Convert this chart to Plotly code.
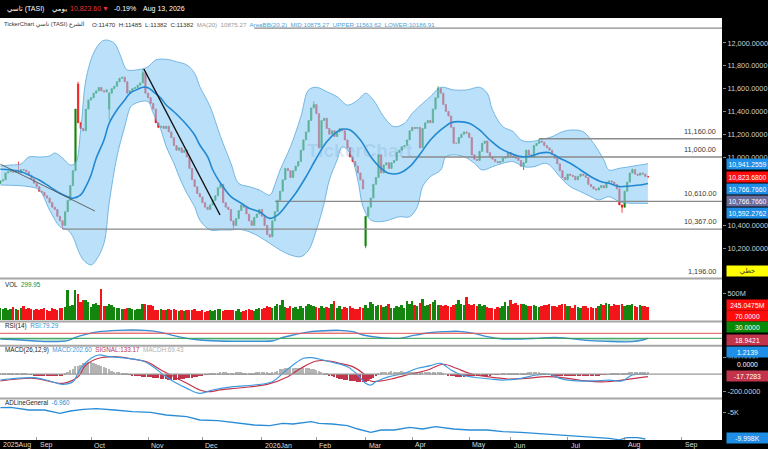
import pandas as pd
import plotly.graph_objects as go
from plotly.subplots import make_subplots

FONT = "Liberation Sans, Arial, DejaVu Sans, sans-serif"
W, H, PW = 768, 449, 722          # page size and width of the plotting area
GREEN, RED, BLUE = "#14860f", "#f2161a", "#2b8cd8"
CRIMSON = "#c2344c"

# ---- trading calendar (Sun-Thu market) ----
holidays = ["2025-09-23", "2026-02-22", "2026-03-19", "2026-03-22", "2026-03-23",
            "2026-03-24", "2026-03-25", "2026-05-25", "2026-05-26", "2026-05-27",
            "2026-05-28", "2026-05-31"]
days = pd.bdate_range("2025-08-12", "2026-09-30", freq="C",
                      weekmask="Sun Mon Tue Wed Thu", holidays=holidays)

# ---- daily closes (one row per month) ----
close = [
    10790, 10800, 10860, 10870, 10880, 10865, 10875, 10860, 10890, 10885, 10870, 10840, 10810, 10770,
    10740, 10700, 10690, 10660, 10640, 10600, 10560, 10540, 10480, 10440, 10400, 10520, 10620, 10750,
    10880, 11420, 11300, 11250, 11230, 11420, 11500,
    11520, 11560, 11580, 11610, 11580, 11570, 11590, 11560, 11600, 11620, 11660, 11690, 11700, 11660,
    11560, 11580, 11600, 11610, 11630, 11650, 11740, 11560,
    11520, 11470, 11420, 11300, 11260, 11270, 11250, 11270, 11220, 11170, 11100, 11060, 11080, 11040,
    11060, 11000, 10900, 10800, 10740, 10680, 10650,
    10600, 10560, 10540, 10580, 10620, 10660, 10730, 10760, 10600, 10560, 10540, 10440, 10400, 10460,
    10530, 10580, 10560, 10500, 10440, 10400, 10470, 10500, 10540,
    10480, 10400, 10320, 10300, 10440, 10520, 10620, 10700, 10800, 10900, 10880, 10820, 10880, 10920,
    10960, 11060, 11150, 11220, 11320, 11430, 11460,
    11380, 11080, 11320, 11340, 11250, 11200, 11230, 11180, 11220, 11250, 11230, 11150, 11080, 11000,
    10960, 10920, 10860, 10800, 10720,
    10480, 10560, 10640, 10760, 10820, 11020, 10860, 10930, 10950, 10900, 10950, 10970, 11040, 11060,
    11090, 11100, 11150, 11230,
    11260, 11250, 11260, 11080, 11250, 11300, 11320, 11300, 11420, 11520, 11600, 11560, 11460, 11400,
    11360, 11260, 11120, 11120, 11170, 11200, 11220, 11210,
    11170, 11020, 10980, 10970, 11050, 11120, 11140, 11040, 11000, 10980, 10960, 10950, 10960, 10990,
    11000, 11040,
    11010, 11000, 10990, 10970, 10920, 10950, 11060, 11020, 11000, 11100, 11120, 11140, 11130, 11100,
    11080, 11060, 11020, 10990, 10940, 10880, 10820, 10800,
    10850, 10840, 10830, 10800, 10830, 10850, 10840, 10820, 10760, 10740, 10720, 10710, 10730, 10750,
    10730, 10780, 10790, 10780, 10760, 10720, 10580, 10560,
    10700, 10780, 10860, 10890, 10850, 10840, 10860, 10850, 10830, 10823.6,
]
# opens default to the previous close; these bars gapped
open_fix = {0: 10770, 30: 11640, 42: 11420, 141: 10220}
high_fix = {7: 10960, 30: 11660, 42: 11570, 55: 11772, 121: 11490, 169: 11620, 208: 11160, 244: 10900}
low_fix = {24: 10368, 42: 11320, 90: 10360, 104: 10290, 141: 10200, 202: 10886, 240: 10510}

# daily volume in millions
volume = [
    220, 200, 230, 190, 210, 240, 200, 180, 230, 250, 200, 220, 210, 190,
    200, 180, 210, 230, 190, 170, 220, 200, 180, 220, 230, 240, 576, 250, 280, 563, 493, 333, 384, 365, 333,
    237, 300, 320, 270, 589, 260, 250, 290, 270, 240, 230, 220, 210, 200, 230, 215, 205, 190, 200, 210, 290, 300,
    280, 270, 260, 190, 180, 200, 175, 190, 200, 185, 195, 180, 170, 180, 160, 190, 175, 185, 200, 170, 160,
    180, 150, 170, 190, 160, 180, 200, 210, 170, 180, 190, 175, 180, 170, 200, 150, 160, 175, 200, 180, 170, 210, 230,
    200, 220, 260, 240, 230, 250, 290, 270, 365, 240, 230, 250, 220, 240, 210, 260, 230, 250, 300, 280, 250,
    240, 230, 260, 220, 240, 230, 300, 350, 230, 250, 210, 240, 220, 260, 230, 200, 210, 240, 220,
    270, 230, 330, 300, 250, 280, 270, 240, 260, 300, 230, 220, 250, 240, 270, 230, 350, 300,
    350, 270, 260, 310, 400, 260, 280, 300, 330, 365, 280, 270, 260, 280, 250, 240, 270, 300, 365, 290, 280, 440,
    300, 280, 290, 260, 300, 250, 270, 240, 220, 230, 210, 240, 220, 250, 333, 260,
    384, 300, 320, 280, 290, 300, 270, 260, 250, 280, 260, 240, 250, 270, 280, 300, 260, 250, 240, 280, 300, 290,
    260, 250, 230, 270, 240, 220, 260, 250, 230, 240, 220, 230, 260, 300, 280, 320, 290, 260, 300, 280, 270, 300,
    260, 280, 270, 290, 250, 240, 270, 260, 250, 245,
]

# MACD histogram, daily
macd_hist = [
    8, 10, 12, 10, 9, 11, 12, 10, 8, 6, 4, 2, -5, -10,
    -14, -18, -20, -22, -20, -18, -20, -22, -24, -20, -15, 10, 30, 45, 60, 90, 100, 110, 125, 135, 140,
    138, 130, 120, 110, 95, 80, 70, 55, 40, 30, 25, 20, 15, 10, 5, -5, -12, -18, -22, -25, -28, -30,
    -32, -35, -40, -45, -50, -55, -58, -60, -62, -65, -66, -65, -62, -58, -54, -50, -45, -40, -35, -28, -20,
    -14, -8, -2, 5, 10, 15, 18, 20, 22, 20, 18, 16, 18, 20, 22, 20, 18, 16, 15, 16, 18, 20, 22,
    25, 22, 20, 18, 22, 30, 40, 55, 65, 72, 78, 80, 78, 75, 72, 70, 68, 70, 72, 65, 55,
    45, 35, 25, 15, 5, -10, -25, -35, -45, -55, -60, -65, -70, -75, -80, -85, -90, -92, -95,
    -90, -80, -60, -40, -20, 10, 20, 25, 28, 30, 32, 30, 28, 30, 32, 30, 28, 26,
    25, 22, 20, 22, 24, 25, 24, 22, 20, 22, 25, 20, 10, 0, -10, -20, -25, -30, -32, -30, -28, -26,
    -25, -22, -20, -18, -16, -15, -14, -12, -10, -8, -5, -2, 2, 5, 8, 10,
    10, 12, 10, 8, 10, 12, 15, 20, 25, 28, 26, 22, 15, 8, 0, -6, -10, -12, -14, -14, -12, -13,
    -12, -14, -12, -10, -12, -13, -12, -10, -11, -12, -13, -12, -10, -8, -6, -4, 2, 5, 8, 10, 12, 10,
    15, 18, 22, 25, 27, 28, 27, 26, 25, 25,
]

# ---- indicator lines, read at sample bars ----
ma_x = [0, 4, 8, 11, 15, 19, 23, 26, 28, 31, 33, 35, 37, 40, 42, 45, 48, 50, 53, 55, 57, 59, 62, 64, 67,
        69, 72, 75, 77, 80, 82, 85, 89, 93, 96, 100, 104, 107, 111, 114, 118, 122, 126, 130, 132, 135,
        139, 143, 147, 150, 154, 158, 162, 166, 170, 174, 177, 181, 185, 189, 193, 197, 201, 205, 208,
        212, 216, 220, 224, 228, 232, 235, 239, 243, 247, 250]
ma_y = [10892, 10886, 10871, 10842, 10798, 10740, 10682, 10652, 10638, 10667, 10740, 10842, 10989, 11149,
        11296, 11412, 11500, 11559, 11594, 11611, 11608, 11573, 11515, 11456, 11397, 11353, 11281, 11193,
        11105, 11003, 10886, 10770, 10652, 10594, 10550, 10520, 10462, 10491, 10594, 10682, 10827, 10989,
        11134, 11222, 11243, 11237, 11149, 11003, 10901, 10857, 10857, 10915, 11025, 11149, 11237, 11301,
        11310, 11296, 11237, 11149, 11076, 11032, 11003, 11009, 11032, 11038, 10989, 10945, 10886, 10827,
        10783, 10769, 10740, 10746, 10754, 10767]

bb_up_x = [0, 4, 8, 11, 15, 19, 21, 24, 27, 29, 31, 33, 36, 39, 41, 44, 46, 48, 49, 54, 57, 60, 64, 68,
           72, 75, 77, 81, 85, 89, 92, 96, 100, 104, 106, 108, 112, 116, 119, 122, 126, 130, 134, 138,
           141, 144, 148, 152, 156, 159, 163, 166, 170, 175, 180, 185, 188, 190, 194, 198, 201, 204, 208,
           213, 217, 221, 225, 229, 233, 235, 239, 243, 247, 250]
bb_up_y = [10921, 10930, 10939, 11000, 11000, 11009, 11035, 10991, 10930, 10947, 11237, 11675, 11912,
           12011, 12026, 11997, 11909, 11792, 11763, 11769, 11792, 11851, 11857, 11836, 11807, 11734,
           11617, 11441, 11178, 10945, 10769, 10740, 10711, 10667, 10760, 10886, 11090, 11353, 11588,
           11611, 11573, 11529, 11456, 11500, 11559, 11500, 11353, 11266, 11296, 11383, 11470, 11529,
           11611, 11588, 11588, 11611, 11559, 11412, 11266, 11222, 11149, 11134, 11149, 11178, 11222,
           11237, 11222, 11120, 10974, 10886, 10901, 10915, 10930, 10941]

bb_lo_x = [0, 11, 15, 19, 23, 26, 28, 30, 32, 35, 37, 40, 42, 45, 48, 50, 51, 54, 57, 59, 62, 64, 67, 69,
           72, 75, 77, 81, 85, 89, 92, 96, 100, 104, 108, 112, 116, 119, 122, 125, 127, 130, 132, 135,
           138, 140, 143, 147, 150, 154, 158, 161, 163, 166, 170, 172, 175, 179, 183, 186, 190, 194, 198,
           202, 206, 210, 212, 216, 220, 224, 228, 231, 235, 239, 243, 247, 250]
bb_lo_y = [10754, 10740, 10711, 10535, 10389, 10360, 10301, 10184, 10097, 10053, 10097, 10243, 10594,
           11003, 11266, 11427, 11456, 11485, 11485, 11383, 11237, 11090, 10945, 10827, 10682, 10564,
           10447, 10360, 10360, 10360, 10366, 10345, 10301, 10243, 10184, 10141, 10126, 10184, 10360,
           10594, 10798, 10974, 11090, 11032, 10798, 10564, 10447, 10433, 10447, 10476, 10476, 10564,
           10740, 10827, 10886, 11003, 11018, 11003, 10945, 10886, 10915, 10945, 10959, 10915, 10915,
           10945, 10930, 10827, 10740, 10696, 10652, 10623, 10652, 10608, 10594, 10594, 10592]

rsi_x = [0, 8, 13, 19, 26, 29, 33, 38, 45, 51, 56, 62, 67, 72, 77, 84, 90, 98, 105, 108, 113, 118, 123,
         131, 136, 140, 147, 154, 159, 165, 171, 177, 183, 188, 194, 201, 207, 214, 219, 226, 234, 244,
         248, 250]
rsi_y = [24.4, 16.4, 8.4, 2.8, 10.8, 38, 62, 82.8, 94, 96.4, 94, 78, 50.8, 30, 16.4, 8.4, 6, 6, 8.4, 30,
         56.4, 78, 88.4, 94, 82.8, 56.4, 34.8, 30, 50.8, 72.4, 82.8, 86, 70, 42.8, 24.4, 24.4, 30, 38, 30,
         14, 6, 2.8, 16.4, 30]

macd_x = [0, 6, 13, 19, 24, 28, 31, 35, 38, 42, 49, 55, 59, 63, 67, 72, 77, 82, 90, 98, 105, 109, 113,
          117, 120, 123, 128, 134, 138, 141, 143, 145, 150, 156, 161, 166, 170, 174, 178, 183, 189, 194,
          201, 207, 212, 216, 221, 229, 235, 240, 244, 250]
macd_y = [-68, -48, -41, -79, -118, -88, 69, 186, 224, 204, 186, 154, 88, -9, -88, -165, -223, -184, -146,
          -126, -88, 10, 107, 186, 193, 177, 139, 88, -9, -106, -126, -88, -29, 10, 69, 99, 127, 49, -9,
          -36, -56, -68, -48, -9, -1, -48, -76, -79, -68, -79, -9, -1]
signal_x = [0, 13, 24, 30, 33, 38, 44, 51, 57, 62, 67, 72, 77, 80, 85, 93, 103, 111, 116, 122, 127, 131,
            136, 140, 143, 147, 152, 158, 165, 171, 176, 181, 188, 196, 203, 211, 219, 226, 234, 240,
            247, 250]
signal_y = [-79, -48, -106, -29, 107, 186, 204, 177, 139, 49, -29, -106, -184, -204, -184, -158, -118,
            -29, 69, 154, 154, 127, 88, 10, -79, -79, -48, -1, 49, 116, 69, 10, -29, -56, -48, -29, -48,
            -79, -88, -68, -41, -29]

ad_x = [0, 4, 11, 17, 23, 27, 32, 37, 44, 51, 58, 64, 72, 77, 84, 90, 98, 104, 109, 113, 120, 123, 128,
        134, 138, 143, 147, 152, 158, 163, 168, 175, 181, 188, 194, 201, 207, 213, 221, 229, 235, 239,
        242, 246, 249]
ad_y = [-4050, -3974, -4487, -4487, -5114, -4677, -4354, -4240, -4487, -4810, -4924, -5437, -5760, -6387,
        -6520, -6824, -7337, -7470, -7014, -7147, -6710, -7014, -7147, -7470, -8097, -8724, -8287, -8287,
        -7774, -8097, -7660, -8097, -8287, -8287, -8610, -8724, -8914, -9104, -9370, -9674, -9864,
        -10150, -9750, -9750, -9997]

# drawn levels and trend lines
level_vals = [12131, 11160, 11000, 10610, 10367]
level_from = [98, 208, 155, 106, 24]
level_text = ["", "11,160.00", "11,000.00", "10,610.00", "10,367.00"]
trend_a_x, trend_a_y = [0, 36.5], [10937, 10526]
trend_b_x, trend_b_y = [55.4, 84.8], [11772, 10491]

# value boxes on the right scale: text, fill, text colour, pixel row
side_boxes = [
    ("10,941.2559", "#1f8ee6", "white", 164), ("10,823.6800", "#ff0d0d", "white", 176.7),
    ("10,766.7660", "#1f8ee6", "white", 189.3), ("10,766.7660", "#6c6c9c", "white", 201),
    ("10,592.2762", "#1f8ee6", "white", 212.7), ("خطي", "#ffff00", "#333333", 270.7),
    ("245.0475M", "#ff0d0d", "white", 305), ("70.0000", "#ff0d0d", "white", 315.5),
    ("30.0000", "#078a07", "white", 327.3), ("18.9421", CRIMSON, "white", 340),
    ("1.2139", "#1f8ee6", "white", 351.7), ("0.0000", "#000000", "white", 364),
    ("-17.7283", CRIMSON, "white", 376), ("-9.998K", "#1f8ee6", "white", 438.3),
]

n = len(close)
idx = list(range(n))
XMIN, XMAX = -0.15, 278.6


def py(p):
    return 1 - p / H


opens = [open_fix.get(i, close[i - 1] if i else close[0]) for i in idx]
highs = [high_fix.get(i, max(opens[i], close[i])) for i in idx]
lows = [low_fix.get(i, min(opens[i], close[i])) for i in idx]
bar_col = [GREEN if close[i] >= opens[i] else RED for i in idx]

fig = make_subplots(rows=5, cols=1, shared_xaxes=True, vertical_spacing=0)

# price panel
fig.add_trace(go.Scatter(x=bb_lo_x, y=bb_lo_y, mode="lines", line=dict(color="#5aa7dc", width=0.8, shape="spline")), 1, 1)
fig.add_trace(go.Scatter(x=bb_up_x, y=bb_up_y, mode="lines", line=dict(color="#5aa7dc", width=0.8, shape="spline"),
                         fill="tonexty", fillcolor="rgba(140,205,245,0.6)"), 1, 1)
for v, f in zip(level_vals, level_from):
    fig.add_trace(go.Scatter(x=[f, XMAX], y=[v, v], mode="lines", line=dict(color="#8a8a8a", width=1.3)), 1, 1)
fig.add_trace(go.Scatter(x=ma_x, y=ma_y, mode="lines", line=dict(color="#2288d2", width=1.6, shape="spline")), 1, 1)
fig.add_trace(go.Scatter(x=trend_a_x, y=trend_a_y, mode="lines", line=dict(color="#555555", width=0.9)), 1, 1)
fig.add_trace(go.Scatter(x=trend_b_x, y=trend_b_y, mode="lines", line=dict(color="#111111", width=1.4)), 1, 1)
fig.add_trace(go.Candlestick(
    x=idx, open=opens, high=highs, low=lows, close=close, whiskerwidth=0,
    increasing=dict(line=dict(color=GREEN, width=0.8), fillcolor=GREEN),
    decreasing=dict(line=dict(color=RED, width=0.8), fillcolor=RED)), 1, 1)

# volume
fig.add_trace(go.Bar(x=idx, y=volume, marker_color=bar_col, marker_line_width=0, width=0.72), 2, 1)

# RSI with shaded zones
rsi_lo = [min(v, 30) for v in rsi_y]
rsi_hi = [max(v, 70) for v in rsi_y]
fig.add_trace(go.Scatter(x=rsi_x, y=[30] * len(rsi_x), mode="lines", line=dict(width=0)), 3, 1)
fig.add_trace(go.Scatter(x=rsi_x, y=rsi_lo, mode="lines", line=dict(width=0, shape="spline"),
                         fill="tonexty", fillcolor="rgba(40,160,110,0.35)"), 3, 1)
fig.add_trace(go.Scatter(x=rsi_x, y=[70] * len(rsi_x), mode="lines", line=dict(width=0)), 3, 1)
fig.add_trace(go.Scatter(x=rsi_x, y=rsi_hi, mode="lines", line=dict(width=0, shape="spline"),
                         fill="tonexty", fillcolor="rgba(235,110,110,0.25)"), 3, 1)
fig.add_trace(go.Scatter(x=rsi_x, y=rsi_y, mode="lines", line=dict(color="#3b8fd4", width=1.3, shape="spline")), 3, 1)

# MACD
fig.add_trace(go.Bar(x=idx, y=macd_hist, marker_color=["#b4b4b4" if v >= 0 else CRIMSON for v in macd_hist],
                     marker_line_width=0, width=0.7), 4, 1)
fig.add_trace(go.Scatter(x=signal_x, y=signal_y, mode="lines", line=dict(color=CRIMSON, width=1.2, shape="spline")), 4, 1)
fig.add_trace(go.Scatter(x=macd_x, y=macd_y, mode="lines", line=dict(color="#3d9be0", width=1.2, shape="spline")), 4, 1)

# A/D line
fig.add_trace(go.Scatter(x=ad_x, y=ad_y, mode="lines", line=dict(color="#2a8cd6", width=1.3)), 5, 1)

# month ticks
month_idx, month_txt = [], []
for i in range(len(days)):
    if i > XMAX:
        break
    if i == 0 or days[i].month != days[i - 1].month:
        month_idx.append(i)
        month_txt.append(days[i].strftime("%Y%b") if i == 0 or days[i].month == 1 else days[i].strftime("%b"))

domains = [(18, 278), (279, 321), (322, 345.5), (346, 398), (399, 440)]
ranges = [[9938.8, 12219], [-28.8, 777.6], [-27.6, 160.4], [-277.7, 329], [-10187, -2397]]
yticks = [
    ([10200, 10400, 11000, 11200, 11400, 11600, 11800, 12000], None),
    ([500], ["500M"]),
    ([], None),
    ([200, -200], ["200.0000", "-200.0000"]),
    ([-5000], ["-5K"]),
]
for k, ((top, bot), rng, (tv, tt)) in enumerate(zip(domains, ranges, yticks), start=1):
    ax = dict(domain=[py(bot), py(top)], range=rng, side="right", showgrid=False, zeroline=False,
              ticks="outside", ticklen=3, tickcolor="#888888", tickvals=tv,
              tickfont=dict(size=7.3, color="#d0d0d0"), fixedrange=True)
    if tt is not None:
        ax["ticktext"] = tt
    else:
        ax["tickformat"] = ",.4f"
    fig.update_layout(**{"yaxis" if k == 1 else f"yaxis{k}": ax})

fig.update_xaxes(range=[XMIN, XMAX], showgrid=False, zeroline=False, showticklabels=False,
                 rangeslider_visible=False, showline=False)
fig.update_xaxes(tickvals=month_idx, ticks="inside", ticklen=3, tickcolor="#999999", row=5, col=1)

shapes = [
    dict(type="rect", xref="paper", yref="paper", x0=0, x1=1, y0=py(440), y1=py(18),
         fillcolor="white", line_width=0, layer="below"),
    dict(type="line", xref="paper", yref="y3", x0=0, x1=1, y0=70, y1=70, line=dict(color="#e25555", width=1)),
    dict(type="line", xref="paper", yref="y3", x0=0, x1=1, y0=30, y1=30, line=dict(color="#2f9a4a", width=1)),
    dict(type="line", xref="paper", yref="y4", x0=0, x1=1, y0=0, y1=0, line=dict(color="#9a9a9a", width=1.2)),
]
for yy in [278.5, 321.5, 345.7, 398.5]:
    shapes.append(dict(type="line", xref="paper", yref="paper", x0=0, x1=1, y0=py(yy), y1=py(yy),
                       line=dict(color="#a6a6a6", width=2)))

ann = []


def label(text, x, y, size=6.5, color="#222222", xanchor="left", **kw):
    ann.append(dict(text=text, x=x, y=y, xref=kw.pop("xref", "paper"), yref=kw.pop("yref", "paper"),
                    showarrow=False, xanchor=xanchor, yanchor=kw.pop("yanchor", "middle"),
                    font=dict(size=size, color=color), **kw))


# header band
label("تاسي (TASI)", 5 / PW, py(9), 7, "white")
label("يومي", 50 / PW, py(9), 7, "white")
label("10,823.60", 68 / PW, py(9), 7, "#e8323a")
label("▼", 100 / PW, py(9), 7, "#e8323a")
label("-0.19%", 112 / PW, py(9), 7, "white")
label("Aug 13, 2026", 141 / PW, py(9), 7, "white")

# info line
label("TickerChart تاسي (TASI) الشرع", 2 / PW, py(24.5), 5.9, "#333333")
label("O:11470  H:11485  L:11382  C:11382  <span style='color:#9a9a9a'>MA(20)  10875.27</span>  "
      "<span style='color:#4f9fd6'>AreaBB(20,2)  MID:10875.27  UPPER:11563.62  LOWER:10186.91</span>",
      90 / PW, py(24.5), 6.2, "#333333")

# panel titles
label("VOL  <span style='color:#1e8c1e'>299.95</span>", 3 / PW, py(284), 6.3)
label("RSI(14)  <span style='color:#3b8fd4'>RSI:79.29</span>", 3 / PW, py(326), 6.3)
label("MACD(26,12,9)  <span style='color:#3d9be0'>MACD:202.60</span>  <span style='color:#c2344c'>SIGNAL:133.17</span>"
      "  <span style='color:#b0b0b0'>MACDH:69.43</span>", 3 / PW, py(350), 6.3)
label("ADLineGeneral  <span style='color:#2a8cd6'>-6.960</span>", 3 / PW, py(402.5), 6.3)

# watermark
label("<b>TickerChart</b>", 360 / PW, py(150), 19, "rgba(110,150,195,0.22)", xanchor="center")

# level captions
for v, t in zip(level_vals, level_text):
    if t:
        label(t, 718 / PW, v, 7.3, "#3a3a3a", xanchor="right", yref="y", yanchor="bottom", yshift=1)
label("1,196.00", 718 / PW, py(271), 7.3, "#3a3a3a", xanchor="right")

# right scale boxes
for t, bg, fg, yy in side_boxes:
    label(t, 726 / PW, py(yy), 6.8, fg, bgcolor=bg, width=41, height=10, align="center", borderpad=0)

# month names along the bottom
for i, t in zip(month_idx, month_txt):
    label(t, i, py(445), 7, "#dddddd", xref="x", xshift=1)

fig.update_layout(
    width=W, height=H, margin=dict(l=0, r=W - PW, t=0, b=0),
    paper_bgcolor="black", plot_bgcolor="rgba(0,0,0,0)",
    font=dict(family=FONT), showlegend=False, bargap=0,
    shapes=shapes, annotations=ann, hovermode=False,
)

fig.write_html("out.html", config={"displayModeBar": False},
               post_script="document.body.style.margin='0';document.body.style.overflow='hidden';")
